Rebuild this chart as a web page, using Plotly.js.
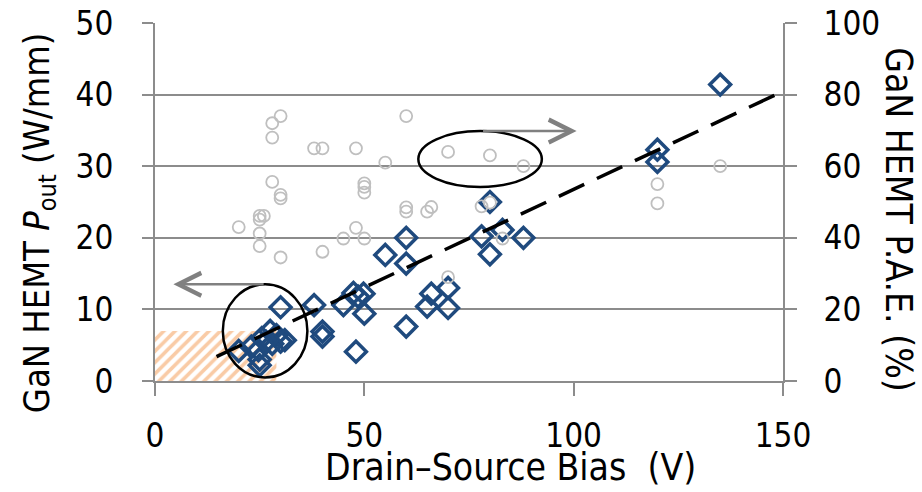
<!DOCTYPE html>
<html><head><meta charset="utf-8">
<script src="https://cdn.plot.ly/plotly-3.0.1.min.js"></script>
<style>html,body{margin:0;padding:0;background:#fff}</style>
</head><body><div id="chart" style="width:922px;height:492px"></div>
<script>
// GaN HEMT output power density (W/mm) vs drain-source bias (V)
const poutBias = [135, 120, 120, 80, 78, 83, 88, 80, 60, 55, 60, 70, 70, 66, 65,
  60, 50, 48, 47.4, 48.5, 49.8, 45, 38, 30, 40, 40,
  20, 25, 25, 24.7, 23, 25.5, 27.5, 29, 30, 31, 28, 26.5];
const poutWmm = [41.4, 32.3, 30.6, 25.0, 20.2, 21.1, 20.0, 17.7, 20.0, 17.6, 16.4, 13.0, 10.2, 12.2, 10.4,
  7.6, 9.4, 4.1, 12.3, 11.8, 12.2, 10.6, 10.6, 10.3, 6.9, 6.2,
  4.2, 2.2, 3.0, 4.3, 4.8, 6.0, 7.0, 6.4, 5.5, 5.7, 5.2, 5.5];
// GaN HEMT power-added efficiency (%) vs drain-source bias (V)
const paeBias = [30, 28, 28, 38, 40, 48, 60, 55, 70, 80, 88, 135, 120, 120,
  28, 30, 30, 50, 50, 50, 20, 25, 26, 25, 25, 25, 30, 40, 45, 48, 50,
  60, 60, 65, 66, 70, 78, 80, 83];
const paePct = [74, 72, 68, 65, 65, 65, 74, 61, 64, 63, 60, 60, 55, 49.6,
  55.6, 52, 51, 55.2, 54.2, 52.6, 43, 46.1, 46.1, 45.1, 41.2, 37.7, 34.5, 36.1, 39.8, 42.8, 39.8,
  48.5, 47.3, 47.3, 48.6, 29, 48.8, 49.8, 39.8];
// dashed trend line
const trendBias = [14.7, 148.7];
const trendWmm = [3.4, 40.1];
// hatched region
const hatchBias = [0, 29, 29, 0, 0];
const hatchWmm = [0, 0, 7, 7, 0];
// tick values
const xTickVals = [0, 50, 100, 150];
const yTickVals = [0, 10, 20, 30, 40, 50];
const y2TickVals = [0, 20, 40, 60, 80, 100];

const FONT = 'DejaVu Sans Condensed, DejaVu Sans, sans-serif';
const GRID = '#8c8c8c';

const traces = [
  {x: hatchBias, y: hatchWmm, type: 'scatter', mode: 'lines', fill: 'toself',
   line: {width: 0, color: 'rgba(0,0,0,0)'}, fillcolor: 'rgba(0,0,0,0)',
   fillpattern: {shape: '/', fgcolor: '#f9cba6', bgcolor: 'rgba(255,255,255,0)', size: 8, solidity: 0.45},
   hoverinfo: 'skip', showlegend: false},
  {x: poutBias, y: poutWmm, type: 'scatter', mode: 'markers',
   marker: {symbol: 'diamond-open', size: 16, color: '#1f4a7e', line: {width: 3.5, color: '#1f4a7e'}},
   showlegend: false},
  {x: trendBias, y: trendWmm, type: 'scatter', mode: 'lines',
   line: {color: '#000', width: 3.5, dash: '28px,14px'}, showlegend: false},
  {x: paeBias, y: paePct, type: 'scatter', mode: 'markers', yaxis: 'y2',
   marker: {symbol: 'circle-open', size: 12, color: '#bfbfbf', line: {width: 1.8, color: '#bfbfbf'}},
   showlegend: false}
];

const axisCommon = {
  showline: true, linecolor: GRID, linewidth: 2, ticks: 'outside', tickcolor: GRID, tickwidth: 2,
  tickfont: {family: FONT, size: 33, color: '#000'}, zeroline: false, fixedrange: true
};

const layout = {
  width: 922, height: 492,
  margin: {l: 155, r: 139, t: 23, b: 111, pad: 0},
  paper_bgcolor: '#fff', plot_bgcolor: '#fff',
  showlegend: false,
  xaxis: Object.assign({}, axisCommon, {range: [0, 150], tickvals: xTickVals, ticklen: 13, showgrid: false,
    ticklabelstandoff: 11}),
  yaxis: Object.assign({}, axisCommon, {range: [0, 50], tickvals: yTickVals, ticklen: 11, showgrid: true,
    gridcolor: GRID, gridwidth: 2, ticklabelstandoff: 22}),
  yaxis2: Object.assign({}, axisCommon, {range: [0, 100], tickvals: y2TickVals, ticklen: 12, showgrid: false,
    overlaying: 'y', side: 'right', ticklabelstandoff: 20}),
  shapes: [
    {type: 'circle', xref: 'x', yref: 'y', x0: 16.2, x1: 36.4, y0: 0.5, y1: 13.5,
     line: {color: '#000', width: 2.5}, layer: 'above'},
    {type: 'circle', xref: 'x', yref: 'y', x0: 62.9, x1: 92.4, y0: 27.1, y1: 34.9,
     line: {color: '#000', width: 2.5}, layer: 'above'}
  ],
  annotations: [
    {x: 4.4, y: 13.5, ax: 26.3, ay: 13.5, xref: 'x', yref: 'y', axref: 'x', ayref: 'y',
     text: '', showarrow: true, arrowhead: 5, arrowsize: 1.8, arrowwidth: 2.5, arrowcolor: '#808080', standoff: 0},
    {x: 100.7, y: 34.9, ax: 78.0, ay: 34.9, xref: 'x', yref: 'y', axref: 'x', ayref: 'y',
     text: '', showarrow: true, arrowhead: 5, arrowsize: 1.8, arrowwidth: 2.5, arrowcolor: '#808080', standoff: 0},
    {xref: 'paper', yref: 'paper', x: (39 - 155) / 628, y: (381 - 223) / 358.3, xanchor: 'center', yanchor: 'middle',
     textangle: -90, showarrow: false, font: {family: FONT, size: 36, color: '#000'},
     text: 'GaN HEMT <i>P</i><sub>out</sub> (W/mm)'},
    {xref: 'paper', yref: 'paper', x: (899 - 155) / 628, y: (381 - 219) / 358.3, xanchor: 'center', yanchor: 'middle',
     textangle: 90, showarrow: false, font: {family: FONT, size: 37, color: '#000'},
     text: 'GaN HEMT P.A.E. (%)'},
    {xref: 'paper', yref: 'paper', x: (510 - 155) / 628, y: (381 - 468) / 358.3, xanchor: 'center', yanchor: 'middle',
     showarrow: false, font: {family: FONT, size: 37, color: '#000'},
     text: 'Drain\u2013Source Bias  (V)'}
  ]
};

Plotly.newPlot('chart', traces, layout, {displayModeBar: false, staticPlot: true});
</script></body></html>
